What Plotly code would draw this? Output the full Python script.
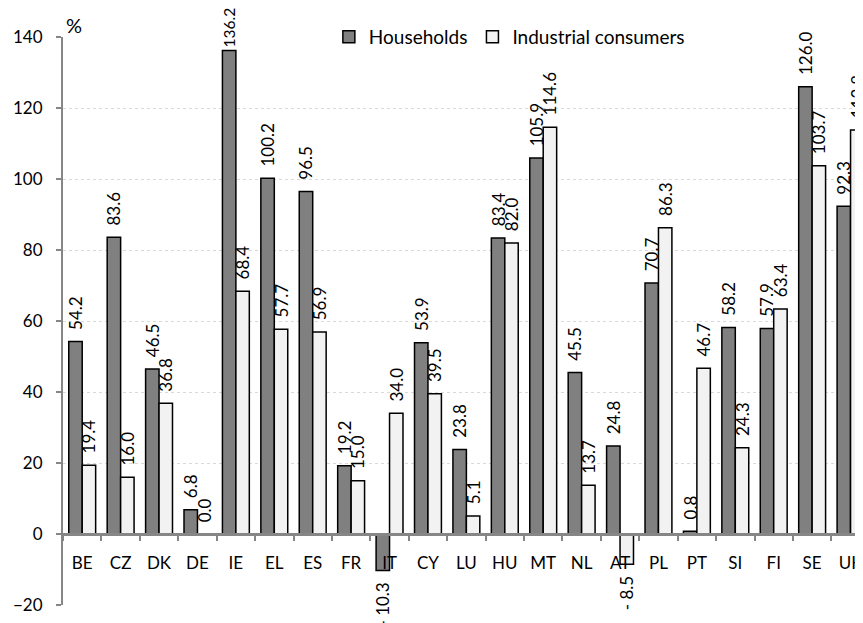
import plotly.graph_objects as go

countries = ["BE", "CZ", "DK", "DE", "IE", "EL", "ES", "FR", "IT", "CY", "LU",
             "HU", "MT", "NL", "AT", "PL", "PT", "SI", "FI", "SE", "UK"]
households = [54.2, 83.6, 46.5, 6.8, 136.2, 100.2, 96.5, 19.2, -10.3, 53.9, 23.8,
              83.4, 105.9, 45.5, 24.8, 70.7, 0.8, 58.2, 57.9, 126.0, 92.3]
industrial = [19.4, 16.0, 36.8, 0.0, 68.4, 57.7, 56.9, 15.0, 34.0, 39.5, 5.1,
              82.0, 114.6, 13.7, -8.5, 86.3, 46.7, 24.3, 63.4, 103.7, 113.8]
y_ticks = [-20, 0, 20, 40, 60, 80, 100, 120, 140]

PAD = "\u00a0\u00a0"
FONT = "Lato"
FS = 17
TOP_LIMIT = 130  # labels above this bar height have no room above: keep them tight


def fmt(v):
    if v < 0:
        return f"- {abs(v):.1f}" + PAD
    if v > TOP_LIMIT:
        return f"{v:.1f}"
    return PAD + f"{v:.1f}"


def label_size(v):
    return FS - 1.5 if v > TOP_LIMIT else FS


fig = go.Figure()
for name, vals, color in [("Households", households, "#808080"),
                          ("Industrial consumers", industrial, "#F2F2F2")]:
    fig.add_trace(go.Bar(
        x=countries, y=vals, name=name,
        marker=dict(color=color, line=dict(color="black", width=1.5)),
        text=[fmt(v) for v in vals], textposition="outside", textangle=-90,
        constraintext="none", cliponaxis=False,
        textfont=dict(family=FONT, size=[label_size(v) for v in vals], color="black"),
    ))

fig.update_layout(
    width=855, height=615,
    margin=dict(l=55, r=0, t=29, b=18),
    plot_bgcolor="white", paper_bgcolor="white",
    barmode="group", bargap=0.30, bargroupgap=0.0,
    font=dict(family=FONT, size=FS, color="black"),
    showlegend=True,
    legend=dict(orientation="h", x=0.334, y=1.0, xanchor="left", yanchor="middle",
                font=dict(family=FONT, size=19), bgcolor="rgba(0,0,0,0)",
                itemwidth=30, tracegroupgap=0),
    annotations=[dict(text="%", x=0.0, y=1.0, xref="paper", yref="paper",
                      xanchor="left", yanchor="bottom", showarrow=False,
                      xshift=1, yshift=-2, font=dict(family=FONT, size=20))],
)
fig.update_yaxes(range=[-20, 140], tickvals=y_ticks, showgrid=True,
                 gridcolor="#D9D9D9", griddash="3px,3px", gridwidth=1,
                 zeroline=False, showline=True, linecolor="#868686", linewidth=2,
                 ticks="outside", ticklen=5, tickcolor="#868686", tickwidth=2,
                 ticklabelstandoff=10,
                 tickfont=dict(family=FONT, size=FS))
fig.update_xaxes(range=[-0.5, 20.22], anchor="free", position=0.125,
                 showline=True, linecolor="#868686", linewidth=2.5,
                 ticks="outside", tickson="boundaries", ticklen=5,
                 tickcolor="#868686", tickwidth=2, showgrid=False,
                 ticklabelstandoff=13,
                 tickfont=dict(family=FONT, size=FS))

fig.write_html("out.html")
